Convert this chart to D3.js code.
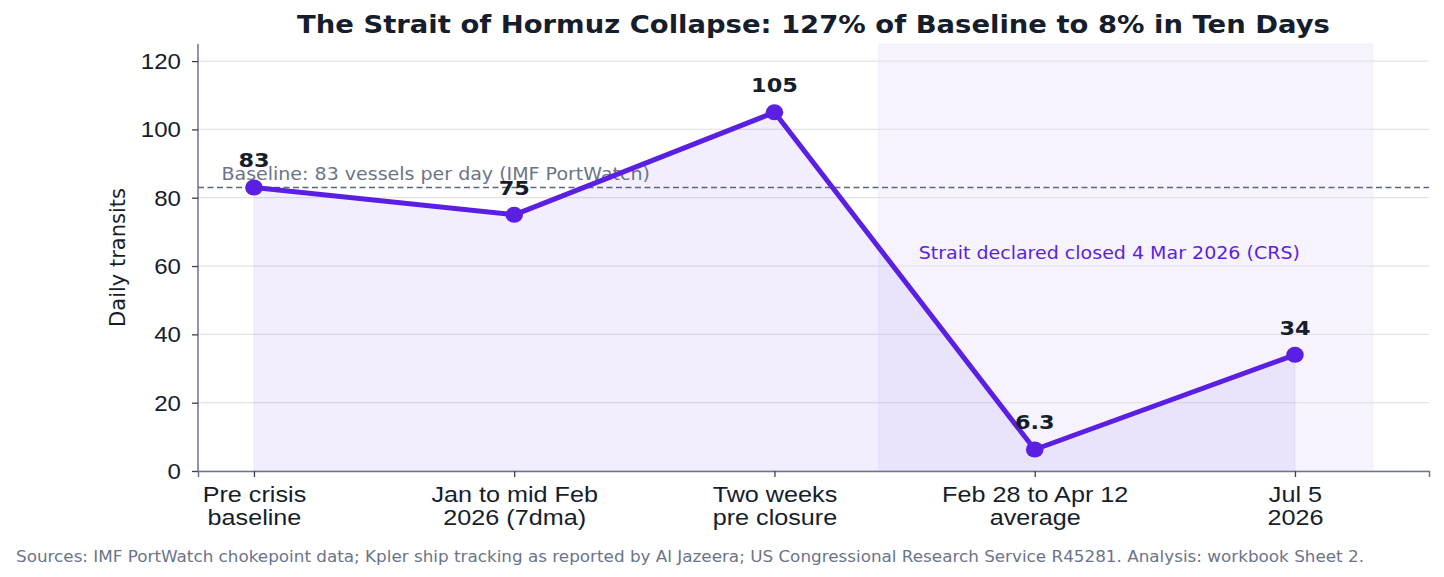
<!DOCTYPE html>
<html>
<head>
<meta charset="utf-8">
<script src="https://cdn.jsdelivr.net/npm/d3@7"></script>
<style>
  body { margin: 0; background: #fff; }
  svg { font-family: "DejaVu Sans", sans-serif; display: block; }
</style>
</head>
<body>
<div id="chart"></div>
<script>
// data
const categories = [
  ['Pre crisis', 'baseline'],
  ['Jan to mid Feb', '2026 (7dma)'],
  ['Two weeks', 'pre closure'],
  ['Feb 28 to Apr 12', 'average'],
  ['Jul 5', '2026']
];
const transits = [83, 75, 105, 6.3, 34];
const valueLabels = ['83', '75', '105', '6.3', '34'];
const yTicks = [0, 20, 40, 60, 80, 100, 120];
const baselineValue = 83;
const closedSpan = [2.4, 4.3];

const W = 1444, H = 577;
const margin = {top: 44, right: 15, bottom: 106, left: 198};
const purple = '#5b1fe3';
const ink = '#161d2b';
// the picture's text is a bit wider than tall, stretch it sideways
const SX = 1.12;

const svg = d3.select('#chart').append('svg')
  .attr('width', W)
  .attr('height', H);

const x = d3.scaleLinear()
  .domain([-0.215, 4.515])
  .range([margin.left, W - margin.right]);

const y = d3.scaleLinear()
  .domain([0, 125])
  .range([H - margin.bottom, margin.top]);

function stretchText(sel, px, py) {
  return sel.append('text')
    .attr('transform', 'translate(' + px + ',' + py + ') scale(' + SX + ',1)');
}

// closure shading
svg.append('rect')
  .attr('x', x(closedSpan[0]))
  .attr('y', y(125))
  .attr('width', x(closedSpan[1]) - x(closedSpan[0]))
  .attr('height', y(0) - y(125))
  .attr('fill', '#7c5cf0')
  .attr('fill-opacity', 0.07)
  .attr('stroke', '#7c5cf0')
  .attr('stroke-opacity', 0.06);

// grid
svg.append('g')
  .selectAll('line').data(yTicks).enter()
  .append('line')
  .attr('x1', x.range()[0])
  .attr('x2', x.range()[1])
  .attr('y1', d => y(d))
  .attr('y2', d => y(d))
  .attr('stroke', '#e3e3e8')
  .attr('stroke-width', 1.2);

// area under the line
const area = d3.area()
  .x((d, i) => x(i))
  .y0(y(0))
  .y1(d => y(d));

svg.append('path')
  .datum(transits)
  .attr('d', area)
  .attr('fill', '#6a3de8')
  .attr('fill-opacity', 0.09)
  .attr('stroke', '#6a3de8')
  .attr('stroke-opacity', 0.08);

// baseline reference
svg.append('line')
  .attr('x1', x.range()[0])
  .attr('x2', x.range()[1])
  .attr('y1', y(baselineValue))
  .attr('y2', y(baselineValue))
  .attr('stroke', '#5d6680')
  .attr('stroke-width', 1.6)
  .attr('stroke-dasharray', '6,3.5');

stretchText(svg, x(-0.125), y(85.2))
  .attr('fill', '#6b7489')
  .attr('font-size', 17)
  .text('Baseline: 83 vessels per day (IMF PortWatch)');

stretchText(svg, x(2.554), y(62))
  .attr('fill', purple)
  .attr('font-size', 17)
  .text('Strait declared closed 4 Mar 2026 (CRS)');

// line + markers
const line = d3.line()
  .x((d, i) => x(i))
  .y(d => y(d));

svg.append('path')
  .datum(transits)
  .attr('d', line)
  .attr('fill', 'none')
  .attr('stroke', purple)
  .attr('stroke-width', 5)
  .attr('stroke-linejoin', 'round');

svg.append('g')
  .selectAll('ellipse').data(transits).enter()
  .append('ellipse')
  .attr('cx', (d, i) => x(i))
  .attr('cy', d => y(d))
  .attr('rx', 8.8)
  .attr('ry', 8)
  .attr('fill', purple);

const labels = svg.append('g');
transits.forEach((d, i) => {
  stretchText(labels, x(i), y(d) - 20)
    .attr('text-anchor', 'middle')
    .attr('font-size', 20)
    .attr('font-weight', 'bold')
    .attr('fill', ink)
    .text(valueLabels[i]);
});

// axes
const yAxis = d3.axisLeft(y).tickValues(yTicks).tickSize(6);
const gy = svg.append('g')
  .attr('transform', 'translate(' + margin.left + ',0)')
  .attr('font-family', null)
  .call(yAxis);
gy.select('.domain').attr('d', 'M0,' + y(125) + 'V' + y(0));
gy.selectAll('.tick text')
  .attr('x', null)
  .attr('dy', '0.35em')
  .attr('transform', 'translate(-17,0) scale(' + SX + ',1)');

const xAxis = d3.axisBottom(x).tickValues(d3.range(categories.length)).tickSize(6).tickFormat('');
const gx = svg.append('g')
  .attr('transform', 'translate(0,' + y(0) + ')')
  .attr('font-family', null)
  .call(xAxis);

[gx, gy].forEach(g => {
  g.select('.domain').attr('stroke', '#6b7489').attr('stroke-width', 1.5);
  g.selectAll('.tick line').attr('stroke', '#374151').attr('stroke-width', 1.3);
  g.selectAll('.tick text')
    .attr('font-size', 21.5)
    .attr('fill', ink);
});

gx.selectAll('.tick').each(function(d) {
  const t = stretchText(d3.select(this), 0, 0)
    .attr('text-anchor', 'middle')
    .attr('font-size', 22.5)
    .attr('fill', ink);
  categories[d].forEach((s, k) => {
    t.append('tspan').attr('x', 0).attr('y', 31 + k * 23).text(s);
  });
});

// titles
stretchText(svg, (x.range()[0] + x.range()[1]) / 2, 33)
  .attr('text-anchor', 'middle')
  .attr('font-size', 24.5)
  .attr('font-weight', 'bold')
  .attr('fill', ink)
  .text('The Strait of Hormuz Collapse: 127% of Baseline to 8% in Ten Days');

svg.append('text')
  .attr('transform', 'translate(125,' + ((y(0) + y(125)) / 2) + ') rotate(-90)')
  .attr('text-anchor', 'middle')
  .attr('font-size', 21)
  .attr('fill', ink)
  .text('Daily transits');

stretchText(svg, 16, 561.5)
  .attr('font-size', 15)
  .attr('fill', '#6b7489')
  .text('Sources: IMF PortWatch chokepoint data; Kpler ship tracking as reported by Al Jazeera; US Congressional Research Service R45281. Analysis: workbook Sheet 2.');
</script>
</body>
</html>
